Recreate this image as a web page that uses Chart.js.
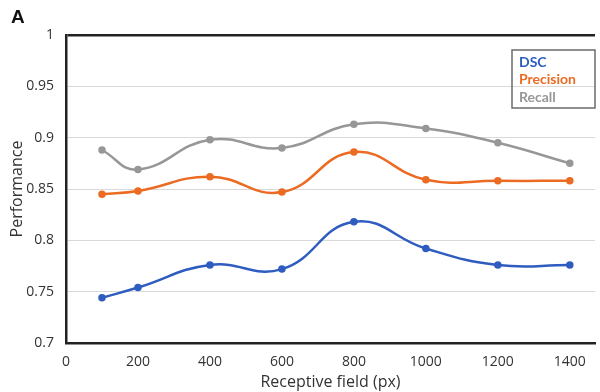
<!DOCTYPE html>
<html>
<head>
<meta charset="utf-8">
<script src="https://cdn.jsdelivr.net/npm/chart.js@4"></script>
<style>
  html, body { margin: 0; padding: 0; background: #fff; overflow: hidden; }
  #wrap { position: relative; width: 600px; height: 392px; }
  #tag { position: absolute; left: 11px; top: 6px; font: bold 19px "Liberation Sans", Arial, sans-serif; color: #111; }
</style>
</head>
<body>
<div id="wrap">
  <canvas id="chart" width="600" height="392"></canvas>
  <div id="tag">A</div>
</div>
<script>
// Receptive field sizes (px)
const fields = [100, 200, 400, 600, 800, 1000, 1200, 1400];
const xTicks = [0, 200, 400, 600, 800, 1000, 1200, 1400];

// Performance per metric
const dsc = [0.744, 0.754, 0.776, 0.772, 0.818, 0.792, 0.776, 0.776];
const precision = [0.845, 0.848, 0.862, 0.847, 0.886, 0.859, 0.858, 0.858];
const recall = [0.888, 0.869, 0.898, 0.890, 0.913, 0.909, 0.895, 0.875];

const font = '"Open Sans", "Liberation Sans", sans-serif';

function toPoints(values) {
    return values.map((v, i) => ({ x: fields[i], y: v }));
}

function series(label, values, color) {
    return {
        label: label,
        data: toPoints(values),
        borderColor: color,
        backgroundColor: color,
        borderWidth: 2.5,
        pointRadius: 2.5,
        pointHoverRadius: 2.5,
        tension: 0.45,
        fill: false
    };
}

// Boxed legend in the upper right, text coloured like the lines
const boxLegend = {
    id: 'boxLegend',
    afterDraw(chart) {
        const c = chart.ctx;
        c.save();
        c.strokeStyle = '#6b6b6b';
        c.lineWidth = 1.5;
        c.strokeRect(512, 50, 83, 58);
        c.font = 'bold 14px Lato, sans-serif';
        c.textBaseline = 'middle';
        chart.data.datasets.forEach((ds, i) => {
            c.fillStyle = ds.borderColor;
            c.fillText(ds.label, 519, 62 + i * 17.5);
        });
        c.restore();
    }
};

new Chart(document.getElementById('chart'), {
    type: 'line',
    data: {
        datasets: [
            series('DSC', dsc, '#2e5cc0'),
            series('Precision', precision, '#ec6b23'),
            series('Recall', recall, '#979797')
        ]
    },
    options: {
        responsive: false,
        animation: false,
        layout: { padding: { top: 35, right: 0, left: 0, bottom: 0 } },
        plugins: { legend: { display: false }, tooltip: { enabled: false } },
        scales: {
            x: {
                type: 'linear',
                min: 0,
                max: 1470,
                afterBuildTicks: (scale) => { scale.ticks = xTicks.map(v => ({ value: v })); },
                afterFit: (scale) => { scale.height = 49; },
                grid: { display: false },
                border: { color: '#222', width: 2.5 },
                ticks: {
                    color: '#333',
                    font: { family: font, size: 14 },
                    padding: 3,
                    maxRotation: 0,
                    callback: (v) => String(v)
                },
                title: { display: true, text: 'Receptive field (px)', color: '#333', font: { family: font, size: 16 }, padding: { top: 0, bottom: 0 } }
            },
            y: {
                min: 0.7,
                max: 1,
                afterFit: (scale) => { scale.width = 66; },
                grid: {
                    drawTicks: false,
                    color: (ctx) => ctx.tick && ctx.tick.value === 1 ? '#222' : '#d9d9d9',
                    lineWidth: (ctx) => ctx.tick && ctx.tick.value === 1 ? 2.5 : 1
                },
                border: { color: '#222', width: 2.5 },
                ticks: {
                    stepSize: 0.05,
                    color: '#333',
                    font: { family: font, size: 14 },
                    padding: 12,
                    callback: (v) => String(Math.round(v * 100) / 100)
                },
                title: { display: true, text: 'Performance', color: '#333', font: { family: font, size: 16 }, padding: { top: 8, bottom: 0 } }
            }
        }
    },
    plugins: [boxLegend]
});
</script>
</body>
</html>
